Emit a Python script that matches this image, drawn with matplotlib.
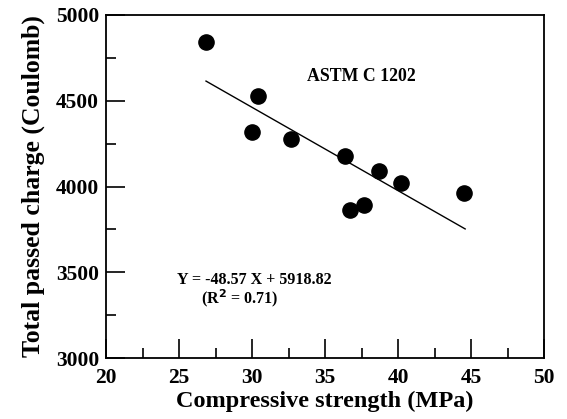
import numpy as np
import matplotlib
matplotlib.use("Agg")
import matplotlib.pyplot as plt
from matplotlib.ticker import MultipleLocator

plt.rcParams["font.family"] = ["Liberation Serif", "DejaVu Serif"]
plt.rcParams["font.weight"] = "bold"

# data
strength = [26.85, 30.4, 30.0, 32.65, 36.4, 36.7, 37.7, 38.7, 40.2, 44.55]
charge = [4845, 4525, 4315, 4275, 4180, 3865, 3895, 4090, 4020, 3960]

# regression Y = -48.57 X + 5918.82
slope = -48.57
intercept = 5918.82
fit_x = [26.85, 44.6]

fig = plt.figure(figsize=(5.67, 4.19), dpi=100)
ax = fig.add_axes([106 / 567, 1 - 358 / 419, (544 - 106) / 567, (358 - 15) / 419])

ax.scatter(strength, charge, s=120, color="black", zorder=3)
fx = np.array(fit_x)
ax.plot(fx, slope * fx + intercept, color="black", lw=1.0)

ax.set_xlim(20, 50)
ax.set_ylim(3000, 5000)
ax.xaxis.set_major_locator(MultipleLocator(5))
ax.xaxis.set_minor_locator(MultipleLocator(2.5))
ax.yaxis.set_major_locator(MultipleLocator(500))
ax.yaxis.set_minor_locator(MultipleLocator(250))
ax.tick_params(which="both", direction="in", top=False, right=False, width=1.2)
ax.tick_params(which="major", length=14)
ax.tick_params(which="minor", length=7)
ax.tick_params(axis="x", labelsize=15.5, pad=7)
ax.tick_params(axis="y", labelsize=15.5, pad=5)
for sp in ax.spines.values():
    sp.set_linewidth(1.3)

ax.set_xlabel("Compressive strength (MPa)", fontsize=17.5, fontweight="bold", labelpad=2)
ax.set_ylabel("Total passed charge (Coulomb)", fontsize=18.5, fontweight="bold", labelpad=8)

ax.text(37.5, 4640, "ASTM C 1202", fontsize=12.8, fontweight="bold", ha="center", va="center")
ax.text(24.85, 3455, "Y = -48.57 X + 5918.82", fontsize=11.5, fontweight="bold", va="center")
ax.text(26.5, 3350, "(R$^{\\mathbf{2}}$ = 0.71)", fontsize=11.5, fontweight="bold", va="center")

fig.savefig("out.png", dpi=100)
